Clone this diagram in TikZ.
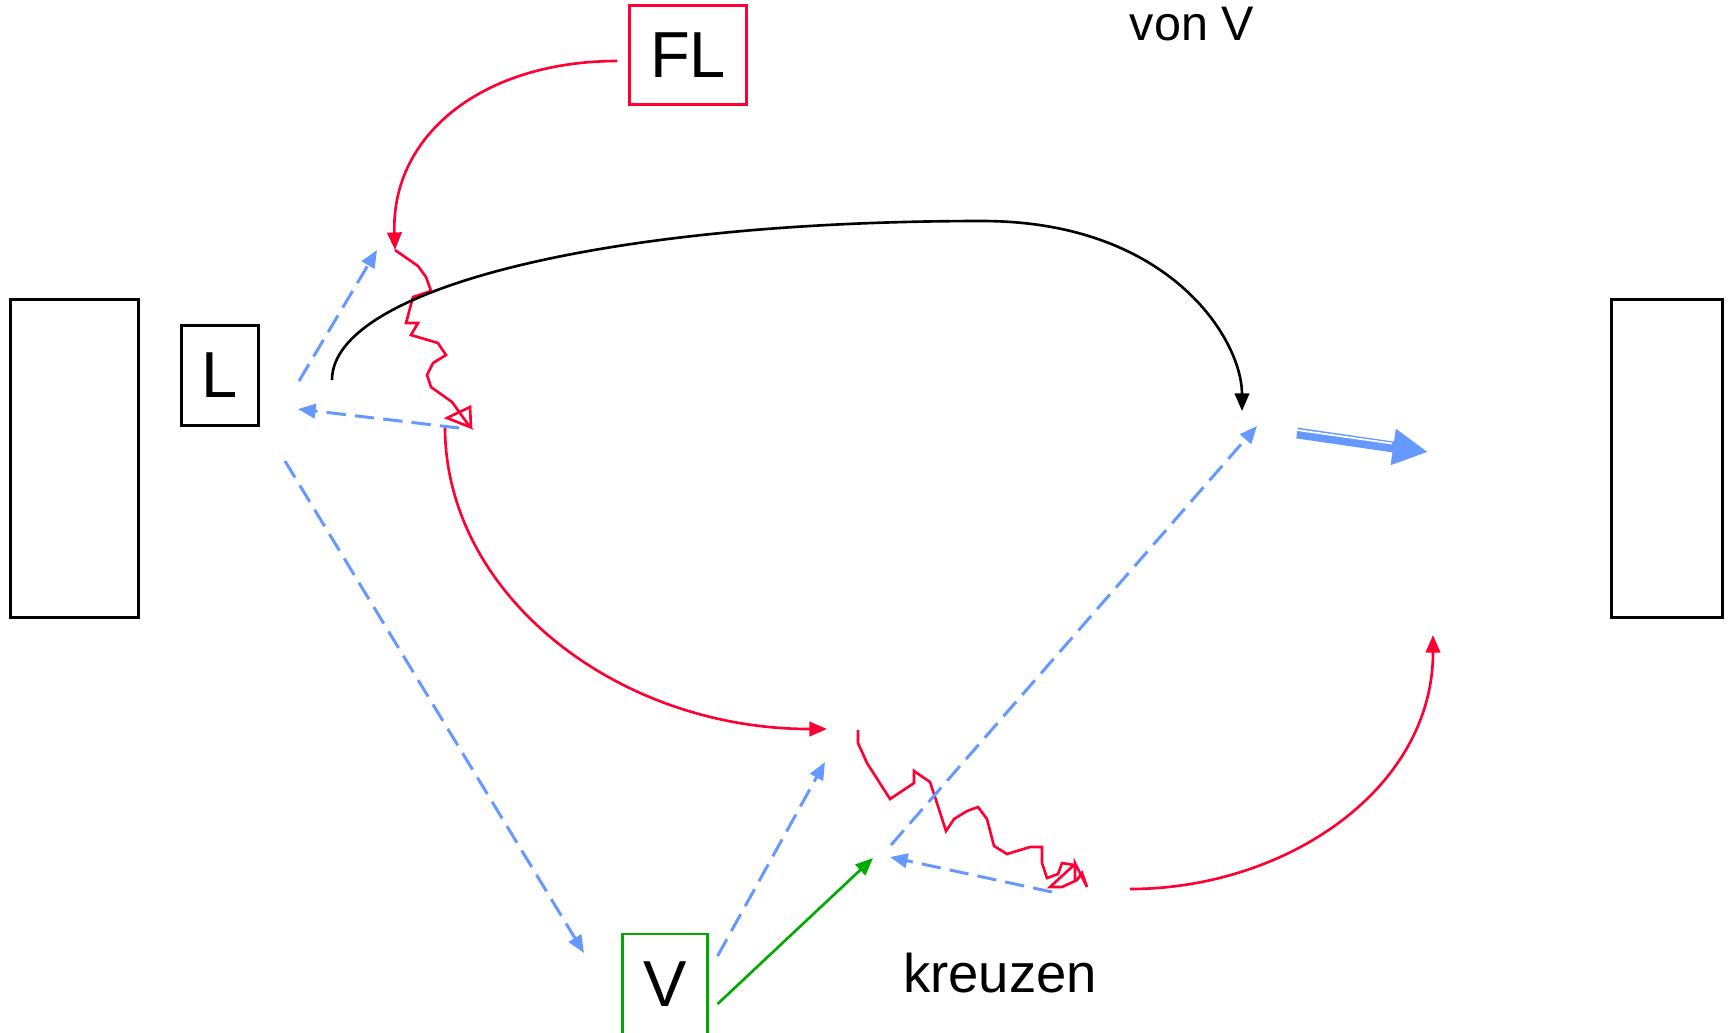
\documentclass[tikz,border=0pt]{standalone}
\usepackage{fontspec}
\setmainfont{Liberation Sans}
\usetikzlibrary{arrows.meta}
\definecolor{rot}{RGB}{255,0,51}
\definecolor{blau}{RGB}{102,153,255}
\definecolor{gruen}{RGB}{0,170,0}

\begin{document}
\begin{tikzpicture}[x=0.01cm,y=0.01cm,>={Triangle[length=5pt,width=4.1pt]},
                    semithick,
                    box/.style={draw,line width=0.85pt,inner sep=0pt,
                                font=\fontsize{18.5}{20}\selectfont},
                    wall/.style={draw,line width=0.85pt,minimum height=3.17cm},
                    flow/.style={->,blau,line width=0.85pt,dash pattern=on 5.5pt off 2.6pt},
                    walk/.style={rot,line width=0.75pt}]

  \useasboundingbox (0,0) rectangle (1730,-1032);
  \clip (0,0) rectangle (1730,-1032);

  \node[wall,minimum width=1.27cm] (WL) at (74.5,-458.5) {};
  \node[wall,minimum width=1.1cm]  (WR) at (1667,-458.5) {};
  \node[box,minimum width=0.77cm,minimum height=0.99cm]         (L)  at (220,-375.5) {L};
  \node[box,draw=rot,minimum width=1.16cm,minimum height=0.98cm] (FL) at (688,-55)  {FL};
  \node[box,draw=gruen,minimum width=0.84cm,minimum height=1cm]  (V)  at (665,-984) {V};
  \node[anchor=base,font=\fontsize{13.8}{16}\selectfont] (vonV) at (1192,-40)  {von V};
  \node[anchor=base,font=\fontsize{15.5}{18}\selectfont] (K)    at (1000,-992) {kreuzen};

  % ends of the red walks
  \coordinate (z1) at (395,-250);
  \coordinate (z2) at (445,-427);
  \coordinate (z3) at (827,-729);
  \coordinate (z4) at (858,-730);
  \coordinate (z5) at (1130,-889);
  \coordinate (z6) at (1433,-635);

  % black jump
  \coordinate (s1) at (332,-380);
  \coordinate (s2) at (982,-221);
  \coordinate (s3) at (1242,-411);

  % blue dashed arrows
  \coordinate (d1)  at (299,-381);  \coordinate (d2)  at (377,-250);
  \coordinate (d3)  at (459,-428);  \coordinate (d4)  at (298,-409);
  \coordinate (d5)  at (285,-461);  \coordinate (d6)  at (584,-953);
  \coordinate (d8)  at (825,-762);
  \coordinate (d9)  at (891,-845);  \coordinate (d10) at (1257,-426);
  \coordinate (d11) at (1052,-892); \coordinate (d12) at (890,-857);
  \coordinate (g2)  at (873,-858);
  \coordinate (f1)  at (1297,-433); \coordinate (f2)  at (1428,-452);

  \draw[->,walk] ([xshift=-0.11cm,yshift=-0.06cm]FL.west)
        to[out=180,in=92,out distance=1.35cm,in distance=1.15cm] (z1);
  \draw[walk] (z1) -- (418,-266) -- (426,-277) -- (431,-291) -- (413,-297)
        -- (406,-323) -- (418,-323) -- (411,-335) -- (438,-343) -- (446,-355)
        -- (433,-363) -- (427,-375) -- (431,-387) -- (452,-402) -- (470,-427)
        -- (447,-418) -- (470,-407) -- (471,-427);
  \draw[->,walk] (z2) to[out=270,in=180,out distance=1.67cm,in distance=2.11cm] (z3);
  \draw[walk] (z4) -- (858,-743) -- (867,-763) -- (890,-799) -- (914,-783)
        -- (914,-771) -- (930,-782) -- (935,-797) -- (946,-831) -- (954,-819)
        -- (967,-811) -- (978,-807) -- (987,-819) -- (994,-846) -- (1007,-854)
        -- (1030,-847) -- (1042,-847) -- (1042,-863) -- (1047,-878) -- (1058,-874)
        -- (1062,-863) -- (1074,-865) -- (1050,-887) -- (1062,-887) -- (1077,-880)
        -- (1082,-873) -- (1087,-887) -- (1075,-863) -- (1075,-880);
  \draw[->,walk] (z5) to[out=0,in=270] (z6);

  \draw[->,line width=0.75pt] (s1) .. controls (332,-290) and (600,-221) .. (s2)
        .. controls (1170,-221) and (1242,-340) .. (s3);

  \path (d1)  edge[flow] (d2)
        (d3)  edge[flow] (d4)
        (d5)  edge[flow] (d6)
        ([xshift=0.09cm,yshift=0.28cm]V.east) edge[flow] (d8)
        (d9)  edge[flow] (d10)
        (d11) edge[flow] (d12);

  \draw[->,gruen,line width=0.75pt] ([xshift=0.09cm,yshift=-0.2cm]V.east) -- (g2);

  \draw[blau,line width=3.1pt,-{Triangle[length=10pt,width=9.7pt]}] (f1) -- (f2);
  \draw[white,line width=0.5pt] (1297,-430) -- (1392,-443.5);
\end{tikzpicture}
\end{document}
